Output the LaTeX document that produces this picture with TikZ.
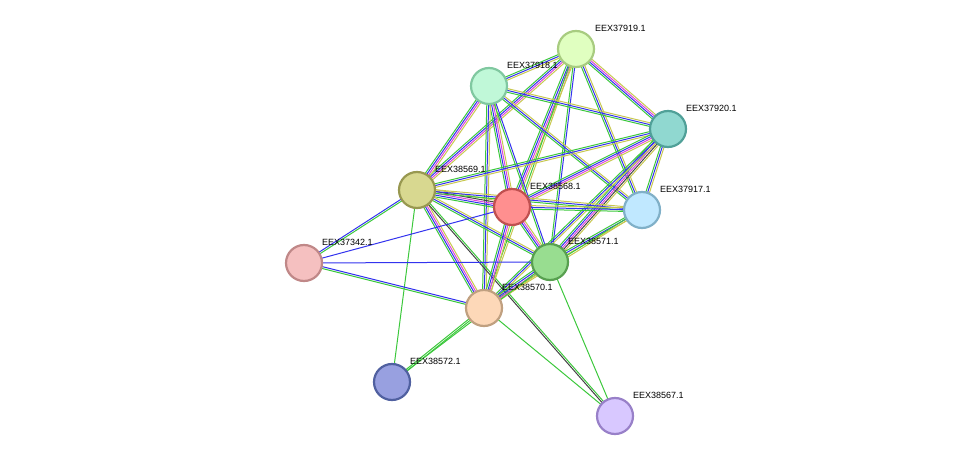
\documentclass[tikz,border=0pt]{standalone}
\usepackage{fontspec}
\setmainfont{Liberation Sans}
\usetikzlibrary{calc}
\definecolor{eg}{HTML}{3CC83C}
\definecolor{eb}{HTML}{3333EE}
\definecolor{em}{HTML}{DD44DD}
\definecolor{ey}{HTML}{C8C850}
\definecolor{ek}{HTML}{444444}
\newcommand\sedge[4]{%
 \foreach \c [count=\i] in {#4} {%
  \pgfmathsetmacro\o{(\i-(#3+1)/2)*1.8}%
  \draw[\c, line width=1pt] ($(#1)!\o pt!90:(#2)$) -- ($(#2)!\o pt!-90:(#1)$);}}
\tikzset{prot/.style={circle, minimum size=36pt, line width=2.2pt, inner sep=0pt},
 lab/.style={anchor=west, font=\fontsize{9}{11}\selectfont, inner sep=0pt}}
\begin{document}
\begin{tikzpicture}[x=1pt,y=-1pt]
\useasboundingbox (0,0) rectangle (976,462);
\coordinate (a) at (576,49);
\coordinate (b) at (489,86);
\coordinate (c) at (668,129);
\coordinate (d) at (417,190);
\coordinate (e) at (512,207);
\coordinate (f) at (642,210);
\coordinate (g) at (304,263);
\coordinate (h) at (550,262);
\coordinate (i) at (484,308);
\coordinate (j) at (392,382);
\coordinate (k) at (615,416);
\sedge{a}{b}{3}{eg,eb,ey}
\sedge{a}{c}{4}{eg,eb,em,ey}
\sedge{a}{d}{4}{eg,eb,em,ey}
\sedge{a}{e}{4}{eg,eb,em,ey}
\sedge{a}{f}{3}{eg,eb,ey}
\sedge{a}{h}{2}{eg,eb}
\sedge{a}{i}{2}{eg,ey}
\sedge{b}{c}{3}{eg,eb,ey}
\sedge{b}{d}{4}{eg,eb,em,ey}
\sedge{b}{e}{4}{eg,eb,em,ey}
\sedge{b}{f}{3}{eg,eb,ey}
\sedge{b}{h}{2}{eg,eb}
\sedge{b}{i}{3}{eg,eb,ey}
\sedge{c}{d}{3}{eg,eb,ey}
\sedge{c}{e}{4}{eg,eb,em,ey}
\sedge{c}{f}{3}{eg,eb,ey}
\sedge{c}{h}{5}{eg,eb,em,ek,ey}
\sedge{c}{i}{3}{eg,eb,ey}
\sedge{d}{e}{5}{eg,eb,em,ek,ey}
\sedge{d}{f}{3}{eg,eb,ey}
\sedge{d}{h}{3}{eg,eb,ey}
\sedge{d}{i}{4}{eg,eb,em,ey}
\sedge{d}{g}{2}{eb,eg}
\sedge{d}{j}{1}{eg}
\sedge{d}{k}{2}{ek,eg}
\sedge{e}{f}{3}{eg,eb,ey}
\sedge{e}{h}{4}{eg,eb,em,ey}
\sedge{e}{i}{4}{eg,eb,em,ey}
\sedge{e}{g}{1}{eb}
\sedge{f}{h}{3}{eg,eb,ey}
\sedge{f}{i}{2}{eg,ey}
\sedge{h}{i}{4}{eg,eb,em,ey}
\sedge{h}{g}{1}{eb}
\sedge{h}{k}{1}{eg}
\sedge{h}{j}{1}{eg}
\sedge{g}{i}{2}{eg,eb}
\sedge{i}{j}{2}{eg,eg}
\sedge{i}{k}{1}{eg}
\node[prot, fill={rgb,255:red,224;green,255;blue,192}, draw={rgb,255:red,168;green,204;blue,128}] (na) at (a) {};
\node[prot, fill={rgb,255:red,192;green,248;blue,216}, draw={rgb,255:red,128;green,200;blue,160}] (nb) at (b) {};
\node[prot, fill={rgb,255:red,144;green,216;blue,208}, draw={rgb,255:red,80;green,160;blue,152}] (nc) at (c) {};
\node[prot, fill={rgb,255:red,216;green,216;blue,144}, draw={rgb,255:red,152;green,152;blue,80}] (nd) at (d) {};
\node[prot, fill={rgb,255:red,255;green,143;blue,143}, draw={rgb,255:red,192;green,80;blue,80}] (ne) at (e) {};
\node[prot, fill={rgb,255:red,192;green,232;blue,255}, draw={rgb,255:red,128;green,176;blue,200}] (nf) at (f) {};
\node[prot, fill={rgb,255:red,245;green,192;blue,192}, draw={rgb,255:red,192;green,136;blue,136}] (ng) at (g) {};
\node[prot, fill={rgb,255:red,152;green,221;blue,144}, draw={rgb,255:red,88;green,160;blue,80}] (nh) at (h) {};
\node[prot, fill={rgb,255:red,253;green,216;blue,184}, draw={rgb,255:red,192;green,160;blue,128}] (ni) at (i) {};
\node[prot, fill={rgb,255:red,152;green,160;blue,224}, draw={rgb,255:red,80;green,96;blue,160}] (nj) at (j) {};
\node[prot, fill={rgb,255:red,216;green,200;blue,255}, draw={rgb,255:red,152;green,128;blue,200}] (nk) at (k) {};
\node[lab] (la) at ($(a)+(19,-21)$) {EEX37919.1};
\node[lab] (lb) at ($(b)+(18,-21)$) {EEX37918.1};
\node[lab] (lc) at ($(c)+(18,-21)$) {EEX37920.1};
\node[lab] (ld) at ($(d)+(18,-21)$) {EEX38569.1};
\node[lab] (le) at ($(e)+(18,-21)$) {EEX38568.1};
\node[lab] (lf) at ($(f)+(18,-21)$) {EEX37917.1};
\node[lab] (lg) at ($(g)+(18,-21)$) {EEX37342.1};
\node[lab] (lh) at ($(h)+(18,-21)$) {EEX38571.1};
\node[lab] (li) at ($(i)+(18,-21)$) {EEX38570.1};
\node[lab] (lj) at ($(j)+(18,-21)$) {EEX38572.1};
\node[lab] (lk) at ($(k)+(18,-21)$) {EEX38567.1};
\end{tikzpicture}
\end{document}
